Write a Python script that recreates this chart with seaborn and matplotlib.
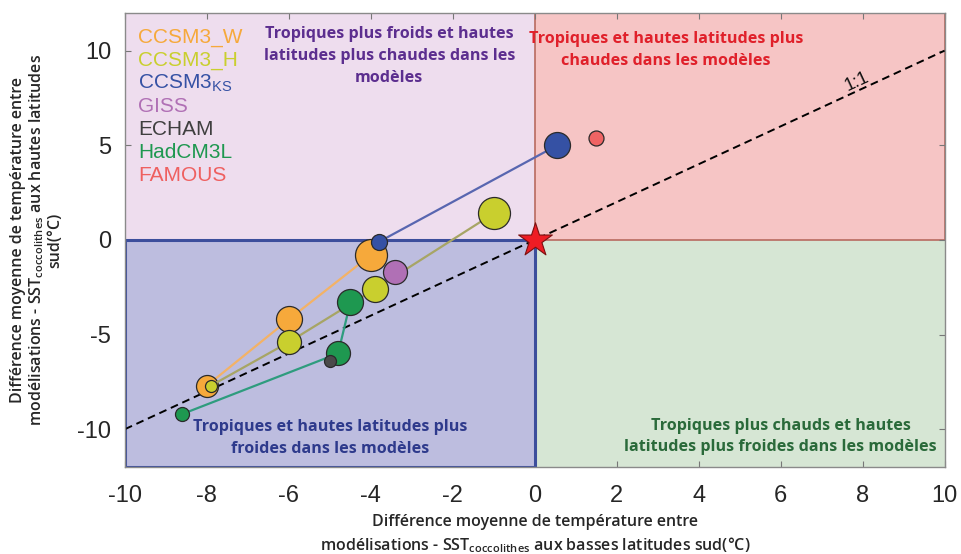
import matplotlib
matplotlib.use("Agg")
import matplotlib.pyplot as plt
from matplotlib.patches import Rectangle
import seaborn as sns
import pandas as pd

# ---- data ----
ccsm3w_x = [-4.0, -6.0, -8.0]
ccsm3w_y = [-0.8, -4.2, -7.7]
ccsm3w_r = [16, 13, 11]

ccsm3h_x = [-1.0, -3.9, -6.0, -7.9]
ccsm3h_y = [1.4, -2.6, -5.4, -7.7]
ccsm3h_r = [16, 13, 12, 6]

ccsm3ks_x = [-3.8, 0.55]
ccsm3ks_y = [-0.1, 5.0]
ccsm3ks_r = [8, 13]

giss_x = [-3.4]
giss_y = [-1.7]
giss_r = [12]

echam_x = [-5.0]
echam_y = [-6.4]
echam_r = [6]

hadcm3l_x = [-4.5, -4.8, -8.6]
hadcm3l_y = [-3.3, -6.0, -9.2]
hadcm3l_r = [13, 12, 7]

famous_x = [1.5]
famous_y = [5.4]
famous_r = [7.5]

legend_labels = ["CCSM3_W", "CCSM3_H", r"CCSM3$_{\mathregular{KS}}$", "GISS", "ECHAM", "HadCM3L", "FAMOUS"]
legend_colors = ["#F6A93B", "#C9CF2E", "#3551A4", "#B070B5", "#3F3F3F", "#1E9850", "#EE6060"]

xticks = [-10, -8, -6, -4, -2, 0, 2, 4, 6, 8, 10]
yticks = [-10, -5, 0, 5, 10]

sns.set_theme(style="white")
plt.rcParams['font.family'] = ['Liberation Sans', 'DejaVu Sans']
plt.rcParams['mathtext.default'] = 'regular'

fig = plt.figure(figsize=(9.61, 5.54), dpi=100)
ax = fig.add_axes([0.130, 0.157, 0.853, 0.820])
ax.set_xlim(-10, 10)
ax.set_ylim(-12, 12)

# quadrant backgrounds
ax.add_patch(Rectangle((-10, 0), 10, 12, facecolor="#EEDDEE", edgecolor="none", zorder=0))
ax.add_patch(Rectangle((0, 0), 10, 12, facecolor="#F6C5C5", edgecolor="#B86A60", lw=1.2, zorder=0.5))
ax.add_patch(Rectangle((0, -12), 10, 12, facecolor="#D6E6D4", edgecolor="none", zorder=0))
ax.add_patch(Rectangle((-10, -12), 10, 12, facecolor="#BDBDDF", edgecolor="#3C4E9C", lw=2.2, zorder=0.6))

# 1:1 line
one = pd.DataFrame({"x": [-10, 10], "y": [-10, 10]})
sns.lineplot(data=one, x="x", y="y", ax=ax, color="black", lw=1.4, linestyle=(0, (4, 2.5)), zorder=2)
ax.text(7.85, 8.35, "1:1", rotation=25, fontsize=13, ha="center", va="center", color="#111111", zorder=3)

def r2s(rs):
    return [(1.44 * r) ** 2 for r in rs]

def series(xs, ys, rs, mcolor, lcolor=None, lw=1.6, z=4):
    df = pd.DataFrame({"x": xs, "y": ys})
    if lcolor is not None and len(xs) > 1:
        sns.lineplot(data=df, x="x", y="y", sort=False, ax=ax, color=lcolor, lw=lw, zorder=z)
    for xi, yi, si in zip(xs, ys, r2s(rs)):
        sns.scatterplot(x=[xi], y=[yi], s=si, color=mcolor, edgecolor="#2a2a2a", linewidth=0.9, ax=ax, zorder=z + 0.5)

series(ccsm3w_x, ccsm3w_y, ccsm3w_r, legend_colors[0], "#F3B266", z=4)
series(ccsm3h_x, ccsm3h_y, ccsm3h_r, legend_colors[1], "#A7A565", z=5)
series(hadcm3l_x, hadcm3l_y, hadcm3l_r, legend_colors[5], "#2E9C7E", z=5)
series(giss_x, giss_y, giss_r, legend_colors[3], z=6)
series(echam_x, echam_y, echam_r, "#4A4A4A", z=7)
series(ccsm3ks_x, ccsm3ks_y, ccsm3ks_r, legend_colors[2], "#5866B0", z=7)
series(famous_x, famous_y, famous_r, "#EF6464", z=7)

# star
sns.scatterplot(x=[0], y=[0], marker="*", s=650, color="#EE1C24", edgecolor="#7a1010", linewidth=0.8, ax=ax, zorder=9)

# legend as coloured text
for i, (lab, col) in enumerate(zip(legend_labels, legend_colors)):
    ax.text(-9.68, 10.7 - i * 1.22, lab, color=col, fontsize=15, ha="left", va="center", zorder=10)

# quadrant annotations
qfont = ['Open Sans', 'DejaVu Sans']
qkw = dict(fontsize=11.6, fontweight="bold", ha="center", va="center", family=qfont, zorder=10)
ax.text(-3.55, 9.72, "Tropiques plus froids et hautes\nlatitudes plus chaudes dans les\nmodèles", color="#5C2E8F",
        linespacing=1.5, **qkw)
ax.text(3.2, 10.05, "Tropiques et hautes latitudes plus\nchaudes dans les modèles", color="#E0202A",
        linespacing=1.5, **qkw)
ax.text(-5.0, -10.45, "Tropiques et hautes latitudes plus\nfroides dans les modèles", color="#2E3A8C",
        linespacing=1.5, **qkw)
ax.text(6.0, -10.4, "Tropiques plus chauds et hautes\nlatitudes plus froides dans les modèles", color="#2A6A3A",
        linespacing=1.45, **qkw)

# ticks & spines
ax.set_xticks(xticks)
ax.set_yticks(yticks)
ax.set_xticklabels([str(t) for t in xticks], fontsize=17)
ax.set_yticklabels([str(t) for t in yticks], fontsize=17)
ax.tick_params(axis="x", pad=13)
ax.tick_params(axis="y", pad=10)
ax.tick_params(direction="in", length=4, width=0.8, color="#777777", top=True, right=True,
               bottom=True, left=True)
for sp in ax.spines.values():
    sp.set_color("#8a8a8a")
    sp.set_linewidth(1.0)
    sp.set_zorder(11)

ax.set_xlabel("Différence moyenne de température entre\nmodélisations - SST$_{coccolithes}$ aux basses latitudes sud(°C)",
              fontsize=11.5, fontweight="semibold", family=qfont, labelpad=5, linespacing=1.35)
ax.set_ylabel("Différence moyenne de température entre\nmodélisations - SST$_{coccolithes}$ aux hautes latitudes\nsud(°C)",
              fontsize=11.5, fontweight="semibold", family=qfont, labelpad=10, linespacing=1.1)

fig.savefig("out.png", dpi=100)
